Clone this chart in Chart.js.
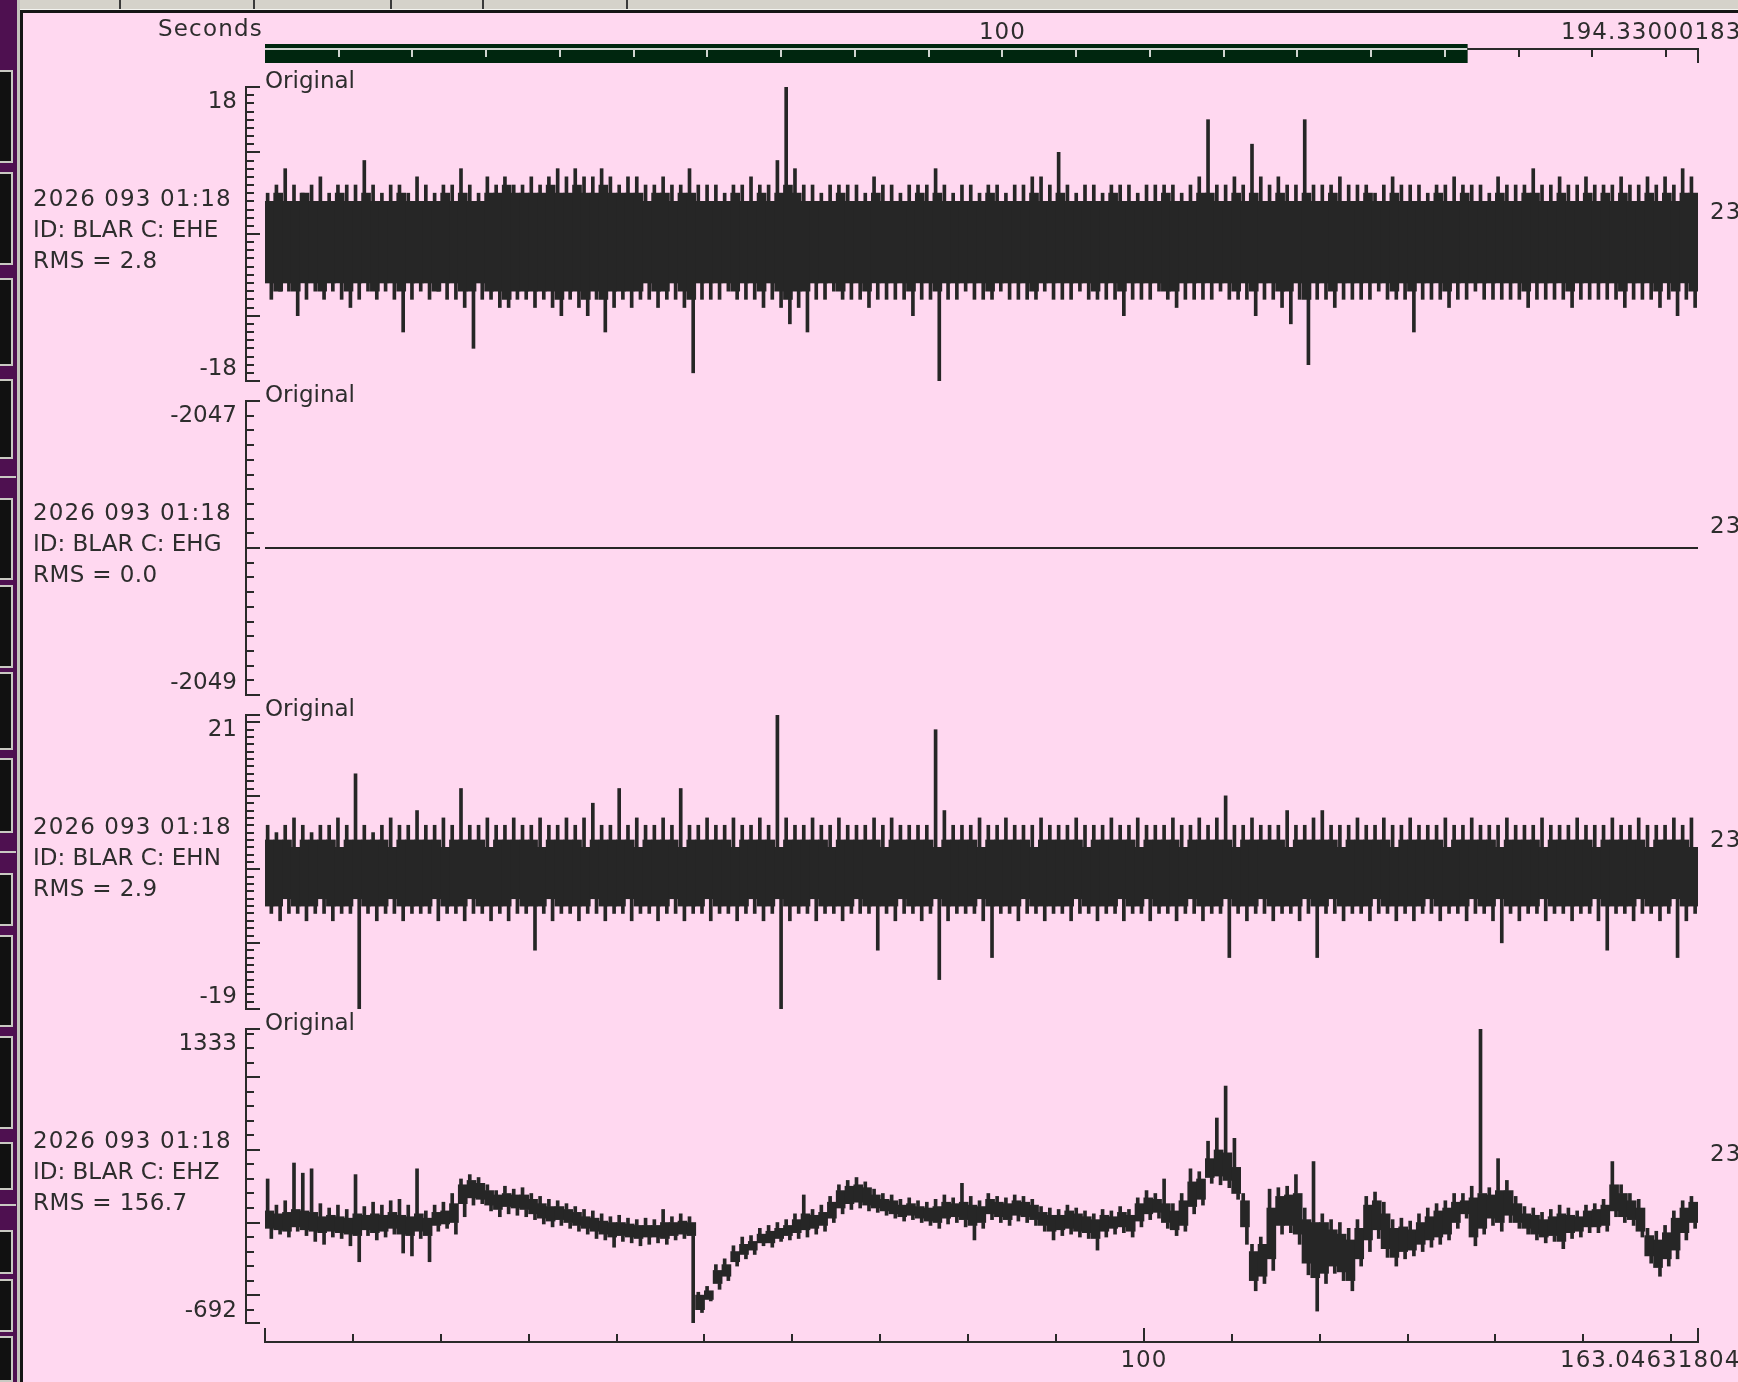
<!DOCTYPE html>
<html>
<head>
<meta charset="utf-8">
<title>BLAR 2026 093 01:18</title>
<script src="https://cdn.jsdelivr.net/npm/chart.js@4.4.1/dist/chart.umd.min.js"></script>
<style>
  html, body { margin: 0; padding: 0; }
  body { width: 1738px; height: 1382px; overflow: hidden; position: relative; background: #d5d2ca; font-family: "DejaVu Sans", sans-serif; }
  #tabs { position: absolute; left: 0; top: 0; width: 1738px; height: 9px; background: #d5d2ca; border-bottom: 1px solid #f4f4f0; }
  .sep { position: absolute; top: 0; width: 2px; height: 9px; background: #3a3a3a; }
  #side { position: absolute; left: 0; top: 0; width: 17px; height: 1382px; background: #4e1050; }
  #sideEdge { position: absolute; left: 17px; top: 0; width: 3px; height: 1382px; background: #c4c3bc; }
  #panel { position: absolute; left: 20px; top: 10px; width: 1718px; height: 1372px; background: #ffd8f0; border-left: 3px solid #161616; border-top: 3px solid #161616; box-sizing: border-box; }
  .btn { position: absolute; left: 0; width: 11px; background: #111; border: 2px solid #c9c9c2; border-left: none; }
  .rule { position: absolute; left: 0; width: 16px; height: 2px; background: #c9c9c2; }
  .lbl { position: absolute; color: #2d2d2d; font-size: 23px; line-height: 23px; white-space: nowrap; }
  canvas { position: absolute; left: 0; }
</style>
</head>
<body>
<div id="tabs"></div>
<div id="side"></div>
<div id="sideEdge"></div>
<div id="panel"></div>
<canvas id="overview" width="1738" height="40" style="top:30px"></canvas>
<canvas id="p0" width="1738" height="314"></canvas>
<canvas id="p1" width="1738" height="314"></canvas>
<canvas id="p2" width="1738" height="314"></canvas>
<canvas id="p3" width="1738" height="363"></canvas>
<script>
// ---- data ----
const totalSeconds = 194.33000183;
const shownSeconds = 163.04631804;
const startTime = '2026 093 01:18';
const station = 'BLAR';
const channels = ['EHE', 'EHG', 'EHN', 'EHZ'];
const rmsValues = ['2.8', '0.0', '2.9', '156.7'];
const yMins = [-18, -2049, -19, -692];
const yMaxs = [18, -2047, 21, 1333];
const minorSteps = [1, 0.1, 1, 100];
const majorSteps = [10, 1, 10, 500];

// EHE: per-second extremes and dense core
const eheHi = [5,6,8,6,5,6,7,5,6,6, 6,9,6,5,6,6,5,7,6,5, 6,6,8,6,5,7,6,7,6,6, 7,6,7,8,7,8,7,7,8,7,
  6,7,7,6,6,7,6,6,8,6, 6,6,5,6,6,7,6,6,9,18, 8,6,6,5,6,6,6,6,5,7, 6,6,5,6,6,6,8,6,5,6,
  6,5,6,6,5,6,6,7,7,6, 10,6,5,6,6,5,6,6,6,5, 6,6,6,6,5,6,7,14,6,6, 7,6,11,7,6,7,6,6,14,6,
  6,6,7,6,6,6,5,6,7,6, 6,6,5,6,6,7,6,6,6,5, 7,6,6,6,8,6,6,7,6,6, 7,6,6,6,7,6,6,7,6,7, 6,8,7];
const eheLo = [-8,-7,-7,-10,-8,-7,-8,-7,-8,-9, -8,-7,-8,-7,-8,-12,-8,-7,-8,-7, -8,-8,-9,-14,-8,-8,-9,-9,-8,-8,
  -9,-8,-9,-10,-8,-9,-10,-8,-12,-9, -8,-9,-8,-8,-9,-8,-8,-9,-17,-8, -8,-8,-7,-8,-8,-8,-9,-8,-9,-11,
  -9,-12,-8,-8,-7,-8,-8,-8,-9,-8, -8,-8,-8,-10,-8,-8,-18,-8,-8,-7, -8,-8,-8,-7,-8,-8,-8,-8,-7,-8,
  -8,-8,-7,-8,-8,-8,-8,-10,-8,-8, -8,-7,-8,-9,-8,-8,-8,-8,-7,-8, -8,-8,-10,-8,-8,-9,-11,-8,-16,-8,
  -8,-9,-8,-8,-8,-8,-7,-8,-8,-8, -12,-8,-8,-8,-9,-8,-8,-7,-8,-8, -8,-8,-8,-9,-8,-8,-8,-8,-9,-8,
  -8,-8,-8,-8,-9,-8,-8,-8,-9,-8, -10,-8,-9];
const eheCoreHi = [4,5,4,4,5,4,4,4,5,4, 4,5,4,4,4,5,4,4,4,4, 5,4,5,4,4,5,5,6,5,5, 5,5,6,5,5,6,5,5,6,5,
  5,5,5,4,5,5,4,5,5,4, 4,4,4,5,4,4,5,4,5,6, 5,4,4,4,4,5,4,4,4,5, 4,4,4,4,5,4,5,4,4,4,
  4,4,5,4,4,4,4,5,4,4, 5,4,4,4,4,4,5,4,4,4, 4,4,5,4,4,4,5,5,4,4, 5,4,5,4,4,5,4,4,5,4,
  4,5,4,4,4,5,4,4,5,4, 4,4,4,5,4,4,5,4,4,4, 5,4,4,5,5,4,4,5,4,4, 5,4,5,4,5,4,4,5,4,5, 4,5,5];
const eheCoreLo = [-6,-7,-6,-7,-6,-6,-7,-6,-6,-7, -6,-6,-7,-6,-6,-7,-6,-6,-6,-7, -6,-6,-7,-7,-6,-7,-7,-8,-7,-7,
  -7,-7,-7,-8,-7,-7,-8,-7,-8,-7, -7,-7,-7,-6,-7,-7,-6,-7,-8,-6, -6,-6,-6,-7,-6,-6,-7,-6,-7,-8,
  -7,-7,-6,-6,-6,-7,-6,-6,-7,-6, -6,-6,-6,-7,-6,-6,-7,-6,-6,-6, -6,-6,-7,-6,-6,-6,-6,-7,-6,-6,
  -6,-6,-6,-6,-7,-6,-6,-7,-6,-6, -6,-6,-7,-7,-6,-6,-6,-6,-6,-6, -7,-6,-7,-6,-6,-7,-7,-6,-8,-6,
  -6,-7,-6,-6,-6,-6,-6,-6,-7,-6, -7,-6,-6,-6,-7,-6,-6,-6,-6,-6, -6,-6,-6,-7,-6,-6,-6,-6,-7,-6,
  -6,-6,-6,-6,-7,-6,-6,-6,-7,-6, -7,-6,-7];

// EHG is flat
const ehgTimes = [0, 163.04631804];
const ehgValues = [-2048, -2048];

// EHN: per-second extremes and dense core
const ehnHi = [6,5,6,7,6,5,6,6,7,6, 13,6,5,6,7,6,6,8,6,6, 7,6,11,6,6,7,6,6,7,6, 6,7,6,6,7,6,7,9,6,6,
  11,6,7,6,6,7,6,11,6,6, 7,6,6,7,6,6,7,6,21,7, 6,6,7,6,6,7,6,6,6,7, 6,7,6,6,6,6,19,8,6,6,
  6,7,6,6,7,6,6,6,7,6, 6,6,7,6,6,6,7,6,6,7, 6,6,6,7,6,6,7,6,7,10, 6,6,7,6,6,6,8,6,6,7,
  8,6,6,6,7,6,6,7,6,6, 7,6,6,6,7,6,6,7,6,6, 6,7,6,6,6,7,6,6,6,7, 6,6,6,7,6,6,7,6,6,6, 7,6,7];
const ehnLo = [-6,-7,-6,-6,-7,-6,-6,-7,-6,-6, -19,-6,-7,-6,-6,-7,-6,-6,-6,-7, -6,-6,-7,-6,-6,-7,-6,-7,-6,-6,
  -11,-6,-7,-6,-6,-7,-6,-6,-7,-6, -6,-7,-6,-6,-7,-6,-6,-7,-6,-6, -7,-6,-6,-7,-6,-6,-7,-6,-19,-7,
  -6,-6,-7,-6,-6,-7,-6,-6,-6,-11, -6,-7,-6,-6,-7,-6,-15,-7,-6,-6, -6,-7,-12,-6,-6,-7,-6,-6,-7,-6,
  -6,-7,-6,-6,-7,-6,-6,-7,-6,-6, -7,-6,-6,-7,-6,-6,-7,-6,-6,-12, -6,-7,-6,-6,-7,-6,-6,-7,-6,-12,
  -6,-6,-7,-6,-6,-7,-6,-6,-7,-6, -7,-6,-6,-7,-6,-6,-7,-6,-6,-7, -10,-6,-7,-6,-6,-7,-6,-6,-7,-6,
  -6,-7,-11,-6,-6,-7,-6,-6,-7,-6, -12,-7,-6];
const ehnCoreHi = [4,4,4,3,4,4,4,4,3,4, 4,4,4,4,3,4,4,4,4,4, 3,4,4,4,4,3,4,4,4,4, 4,3,4,4,4,4,3,4,4,4,
  4,4,3,4,4,4,4,3,4,4, 4,4,4,3,4,4,4,4,3,4, 4,4,4,4,3,4,4,4,4,4, 3,4,4,4,4,4,3,4,4,4,
  4,3,4,4,4,4,4,3,4,4, 4,4,4,3,4,4,4,4,4,3, 4,4,4,4,3,4,4,4,4,4, 3,4,4,4,4,4,3,4,4,4,
  4,4,3,4,4,4,4,4,3,4, 4,4,4,4,3,4,4,4,4,4, 3,4,4,4,4,3,4,4,4,4, 4,3,4,4,4,4,4,3,4,4, 4,4,3];
const ehnCoreLo = [-5,-5,-4,-5,-5,-5,-4,-5,-5,-5, -4,-5,-5,-5,-4,-5,-5,-5,-5,-4, -5,-5,-5,-4,-5,-5,-5,-5,-4,-5,
  -5,-5,-4,-5,-5,-5,-5,-4,-5,-5, -5,-4,-5,-5,-5,-5,-4,-5,-5,-5, -4,-5,-5,-5,-5,-4,-5,-5,-4,-5,
  -5,-5,-4,-5,-5,-5,-5,-4,-5,-5, -5,-5,-4,-5,-5,-5,-4,-5,-5,-5, -5,-4,-5,-5,-5,-5,-4,-5,-5,-5,
  -5,-5,-4,-5,-5,-5,-5,-4,-5,-5, -4,-5,-5,-5,-5,-4,-5,-5,-5,-4, -5,-5,-5,-4,-5,-5,-5,-5,-4,-5,
  -5,-4,-5,-5,-5,-5,-4,-5,-5,-5, -5,-5,-4,-5,-5,-5,-5,-4,-5,-5, -4,-5,-5,-5,-5,-4,-5,-5,-5,-5,
  -5,-4,-5,-5,-5,-5,-4,-5,-5,-5, -4,-5,-5];

// EHZ: per-second extremes and dense band
const ehzHi = [300,120,150,410,340,370,130,100,120,90, 330,110,140,120,150,160,120,370,80,120,
  140,200,300,330,310,260,220,250,230,240, 200,180,160,150,130,110,90,80,60,40,
  50,30,20,30,20,90,40,60,40,-480, -440,-290,-250,-160,-100,-90,-40,-20,0,20,
  60,190,90,120,180,260,290,310,280,230, 200,190,160,170,150,140,160,190,170,270,
  180,150,200,180,170,190,180,160,110,100, 90,120,100,80,60,90,80,110,90,170,
  220,200,300,130,200,370,350,560,720,940, 580,200,-150,-100,230,240,250,330,100,420,
  60,20,0,-40,20,180,210,140,20,30, 10,60,100,130,150,200,200,250,1333,240,
  440,290,180,110,100,70,90,120,100,80, 120,130,160,420,260,200,160,-40,-60,-20, 80,150,180];
const ehzLo = [-110,-80,-100,-60,-90,-130,-150,-100,-110,-160, -270,-90,-120,-100,-80,-210,-230,-110,-270,-60,
  -40,-80,40,120,130,80,40,60,50,40, 20,-10,-30,-20,-40,-60,-80,-110,-120,-170,
  -130,-140,-160,-150,-140,-150,-120,-110,-690,-620, -540,-460,-400,-300,-250,-220,-160,-170,-130,-120,
  -110,-100,-80,-60,0,60,90,100,80,70, 50,30,10,20,0,-20,-40,-10,0,-30,
  -120,-40,20,0,-20,10,0,-20,-60,-120, -90,-80,-100,-110,-190,-100,-80,-70,-100,-30,
  20,30,-40,-90,-60,60,120,270,260,240, 160,-150,-470,-420,-330,-80,-70,-150,-360,-610,
  -420,-350,-400,-470,-300,-200,-110,-240,-300,-250, -230,-200,-170,-150,-120,-40,30,-160,-80,-20,
  -60,0,-40,-80,-120,-140,-130,-180,-110,-100, -70,-70,-60,40,0,-20,-100,-280,-370,-300, -250,-120,-40];
const ehzCoreHi = [80,60,70,90,80,70,40,50,40,30, 60,50,60,50,70,50,40,60,30,70,
  80,130,260,290,270,220,190,200,190,190, 160,130,110,110,90,70,40,30,10,0,
  0,-10,-20,-20,-20,0,0,10,0,-500, -470,-330,-290,-200,-150,-130,-80,-60,-40,-20,
  20,60,50,70,140,220,250,260,240,190, 160,150,120,130,110,100,110,140,130,140,
  120,110,160,140,130,150,140,120,70,50, 50,80,60,40,20,50,40,70,50,130,
  170,160,130,80,150,280,300,440,500,480, 380,150,-200,-150,100,180,190,200,20,0,
  0,-50,-80,-120,-40,120,150,60,-40,-30, -50,0,40,80,100,140,150,170,200,190,
  220,220,130,60,50,20,40,60,50,40, 80,90,120,260,200,150,100,-90,-120,-70, 30,100,140];
const ehzCoreLo = [-40,-50,-60,-30,-50,-60,-70,-60,-70,-80, -90,-50,-70,-60,-40,-80,-90,-60,-90,-20,
  -10,0,130,170,160,120,90,110,100,90, 60,30,10,20,0,-20,-40,-60,-80,-100,
  -90,-100,-110,-100,-100,-110,-90,-80,-90,-600, -530,-420,-370,-270,-220,-190,-140,-140,-110,-90,
  -70,-50,-40,-20,30,100,130,140,120,100, 80,60,40,50,30,10,0,30,40,20,
  -20,0,60,40,20,50,40,20,-20,-60, -50,-40,-60,-70,-110,-60,-40,-30,-60,10,
  60,70,0,-50,-20,110,160,310,320,290, 200,-30,-400,-370,-250,-20,-20,-80,-280,-380,
  -350,-300,-340,-400,-250,-120,-50,-180,-240,-200, -190,-150,-120,-100,-80,0,60,-100,-40,30,
  0,50,0,-40,-80,-100,-90,-130,-70,-60, -30,-30,-20,80,40,20,-60,-230,-310,-250, -190,-70,0];

// ---- drawing ----
const traceColor = '#262626';
const axisColor = '#2a2a2a';
const textColor = '#2d2d2d';
const panelTops = [87, 401, 715, 1029];
const panelHeight = 294;
const plotLeft = 265;
const plotWidth = 1433;

function addLabel(text, x, cy, align, spacing) {
  const d = document.createElement('div');
  d.className = 'lbl';
  d.textContent = text;
  d.style.top = (cy - 11) + 'px';
  if (spacing) d.style.letterSpacing = spacing + 'px';
  if (align === 'right') d.style.right = (1738 - x) + 'px';
  else if (align === 'center') { d.style.left = x + 'px'; d.style.transform = 'translateX(-50%)'; }
  else d.style.left = x + 'px';
  document.body.appendChild(d);
}

// window chrome
[119, 253, 390, 482, 626].forEach(x => {
  const s = document.createElement('div');
  s.className = 'sep';
  s.style.left = x + 'px';
  document.getElementById('tabs').appendChild(s);
});
[[70, 93], [172, 93], [278, 88], [379, 80], [498, 82], [585, 83], [672, 78], [758, 75],
 [873, 53], [935, 92], [1036, 93], [1142, 48], [1230, 44], [1279, 53], [1336, 46]].forEach(([y, h]) => {
  const b = document.createElement('div');
  b.className = 'btn';
  b.style.top = y + 'px';
  b.style.height = (h - 4) + 'px';
  document.body.appendChild(b);
});
[476, 851, 1204].forEach(y => {
  const r = document.createElement('div');
  r.className = 'rule';
  r.style.top = y + 'px';
  document.body.appendChild(r);
});

const seisAxis = {
  id: 'seisAxis',
  afterDraw(chart, args, opts) {
    const ctx = chart.ctx;
    const ys = chart.scales.y;
    const ax = 246;
    const yTop = Math.round(ys.getPixelForValue(ys.max));
    const yBot = Math.round(ys.getPixelForValue(ys.min));
    ctx.save();
    ctx.strokeStyle = axisColor;
    ctx.lineWidth = 2;
    ctx.beginPath();
    ctx.moveTo(ax, yTop - 1);
    ctx.lineTo(ax, yBot + 1);
    [yTop, yBot].forEach(y => { ctx.moveTo(ax, y); ctx.lineTo(ax + 14, y); });
    const first = Math.ceil(ys.min / opts.minor - 1e-6);
    const last = Math.floor(ys.max / opts.minor + 1e-6);
    for (let k = first; k <= last; k++) {
      const v = k * opts.minor;
      const y = Math.round(ys.getPixelForValue(v));
      if (Math.abs(y - yTop) < 3 || Math.abs(y - yBot) < 3) continue;
      const r = v / opts.major;
      const isMajor = Math.abs(r - Math.round(r)) < 1e-6;
      ctx.moveTo(ax, y);
      ctx.lineTo(ax + (isMajor ? 14 : 8), y);
    }
    ctx.stroke();
    ctx.fillStyle = textColor;
    ctx.font = '23px "DejaVu Sans"';
    ctx.textAlign = 'right';
    ctx.textBaseline = 'alphabetic';
    ctx.fillText(String(ys.max), 237, yTop + 13 + 8);
    ctx.fillText(String(ys.min), 237, yBot - 14 + 8);

    if (opts.timeAxis) {
      const xs = chart.scales.x;
      const ly = chart.chartArea.bottom + 19;
      const x0 = xs.getPixelForValue(xs.min);
      const x1 = xs.getPixelForValue(xs.max);
      ctx.beginPath();
      ctx.moveTo(x0 - 1, ly);
      ctx.lineTo(x1 + 1, ly);
      for (let v = 0; v <= xs.max; v += 10) {
        const px = Math.round(xs.getPixelForValue(v));
        ctx.moveTo(px, ly);
        ctx.lineTo(px, ly - (v % 100 === 0 ? 14 : 8));
      }
      ctx.moveTo(Math.round(x1), ly);
      ctx.lineTo(Math.round(x1), ly - 14);
      ctx.stroke();
    }
    ctx.restore();
  }
};

const overviewTicks = {
  id: 'overviewTicks',
  afterDatasetsDraw(chart) {
    const ctx = chart.ctx;
    const xs = chart.scales.x;
    const a = chart.chartArea;
    const ly = a.top + 5;
    const fillEnd = xs.getPixelForValue(shownSeconds);
    ctx.save();
    ctx.lineWidth = 2;
    ctx.strokeStyle = '#cfd3cf';
    ctx.beginPath();
    ctx.moveTo(a.left, ly);
    ctx.lineTo(fillEnd, ly);
    for (let v = 10; v < xs.max; v += 10) {
      const px = Math.round(xs.getPixelForValue(v));
      if (px < fillEnd) { ctx.moveTo(px, ly); ctx.lineTo(px, ly + 8); }
    }
    ctx.stroke();
    ctx.strokeStyle = axisColor;
    ctx.beginPath();
    ctx.moveTo(fillEnd, ly);
    ctx.lineTo(a.right + 1, ly);
    for (let v = 10; v < xs.max; v += 10) {
      const px = Math.round(xs.getPixelForValue(v));
      if (px > fillEnd) { ctx.moveTo(px, ly); ctx.lineTo(px, ly + 8); }
    }
    ctx.moveTo(Math.round(a.right), ly);
    ctx.lineTo(Math.round(a.right), a.bottom);
    ctx.stroke();
    ctx.restore();
  }
};

new Chart(document.getElementById('overview'), {
  type: 'bar',
  data: {
    labels: ['shown'],
    datasets: [{
      data: [[0, shownSeconds]],
      backgroundColor: '#00260f',
      barPercentage: 1,
      categoryPercentage: 1,
      borderWidth: 0
    }]
  },
  options: {
    indexAxis: 'y',
    responsive: false,
    animation: false,
    events: [],
    layout: { padding: { left: plotLeft, right: 40, top: 14, bottom: 7 } },
    scales: {
      x: { type: 'linear', min: 0, max: totalSeconds, display: false, offset: false },
      y: { display: false }
    },
    plugins: { legend: { display: false }, tooltip: { enabled: false } }
  },
  plugins: [overviewTicks]
});

function bandBars(lo, hi, pos) {
  return lo.map((v, i) => ({ x: i + pos, y: [v, hi[i]] }));
}

// dense core drawn as touching one-second bars, extremes as thin spikes
const secondWidth = Math.ceil(plotWidth / shownSeconds);
function traceDatasets(coreLo, coreHi, lo, hi, spikeWidth) {
  const common = { type: 'bar', backgroundColor: traceColor, borderWidth: 0, grouped: false };
  return [
    { ...common, data: bandBars(coreLo, coreHi, 0.5), barThickness: secondWidth },
    { ...common, data: bandBars(coreHi, hi, 0.3), barThickness: spikeWidth },
    { ...common, data: bandBars(lo, coreLo, 0.72), barThickness: spikeWidth }
  ];
}

const panelData = [
  traceDatasets(eheCoreLo, eheCoreHi, eheLo, eheHi, 3),
  [{ type: 'line', data: ehgTimes.map((t, i) => ({ x: t, y: ehgValues[i] })), borderColor: traceColor,
     borderWidth: 2, pointRadius: 0 }],
  traceDatasets(ehnCoreLo, ehnCoreHi, ehnLo, ehnHi, 3),
  traceDatasets(ehzCoreLo, ehzCoreHi, ehzLo, ehzHi, 3)
];

panelTops.forEach((top, k) => {
  const canvas = document.getElementById('p' + k);
  canvas.style.top = (top - 10) + 'px';
  const extra = canvas.height - panelHeight - 20;
  new Chart(canvas, {
    type: 'bar',
    data: { datasets: panelData[k] },
    options: {
      responsive: false,
      animation: false,
      events: [],
      layout: { padding: { left: plotLeft, right: 1738 - plotLeft - plotWidth, top: 10, bottom: 10 + extra } },
      scales: {
        x: { type: 'linear', min: 0, max: shownSeconds, display: false, offset: false },
        y: { type: 'linear', min: yMins[k], max: yMaxs[k], display: false }
      },
      plugins: {
        legend: { display: false },
        tooltip: { enabled: false },
        seisAxis: { minor: minorSteps[k], major: majorSteps[k], timeAxis: k === panelTops.length - 1 }
      }
    },
    plugins: [seisAxis]
  });

  const mid = top + panelHeight / 2;
  addLabel('Original', 265, top - 7);
  addLabel(startTime, 33, mid - 36, null, 1.1);
  addLabel('ID: ' + station + ' C: ' + channels[k], 33, mid - 5);
  addLabel('RMS = ' + rmsValues[k], 33, mid + 26, null, 0.4);
  addLabel('23', 1710, mid - 23, null, 1);
});

addLabel('Seconds', 263, 28, 'right', 1.2);
addLabel('100', plotLeft + plotWidth * 100 / totalSeconds, 31, 'center', 1);
addLabel(String(totalSeconds), 1561, 31, null, 1);
addLabel('100', plotLeft + plotWidth * 100 / shownSeconds, 1359, 'center', 1);
addLabel(String(shownSeconds), 1560, 1359, null, 1);
</script>
</body>
</html>
